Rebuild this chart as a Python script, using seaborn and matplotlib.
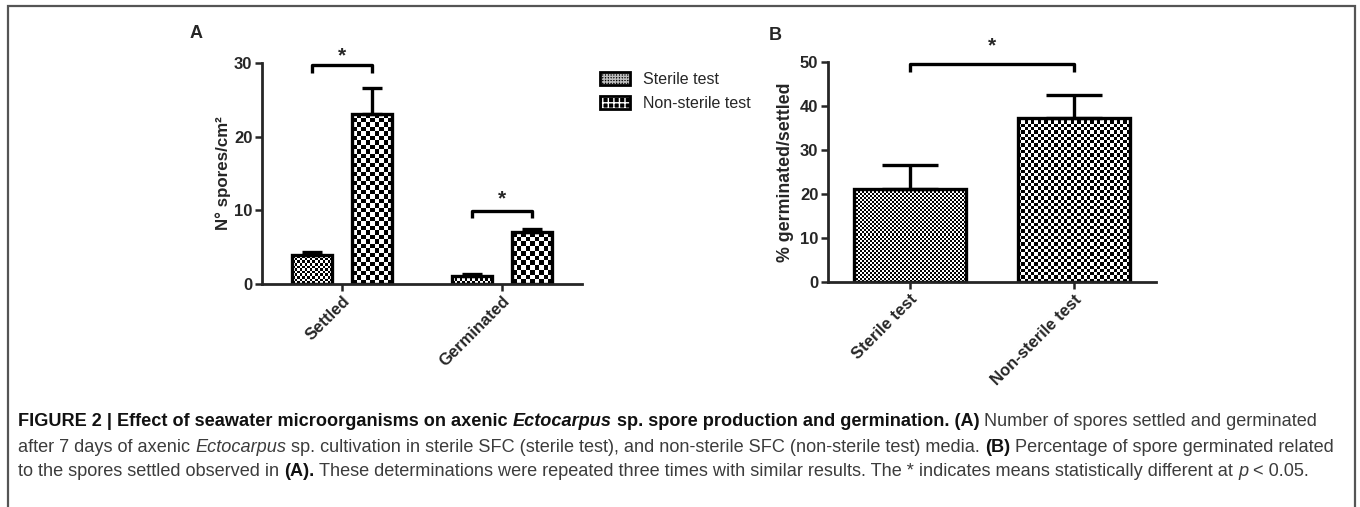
import numpy as np
import pandas as pd
import seaborn as sns
import matplotlib
matplotlib.use("Agg")
import matplotlib.pyplot as plt
from matplotlib.patches import Patch, Rectangle
from matplotlib.legend_handler import HandlerTuple

# panel A: spores per cm2
groups_a = ["Settled", "Germinated"]
treatments = ["Sterile test", "Non-sterile test"]
sterile_a = [3.9, 1.1]
sterile_a_err = [0.5, 0.2]
nonsterile_a = [23.1, 7.0]
nonsterile_a_err = [3.5, 0.4]

# panel B: % germinated/settled
values_b = [21.1, 37.3]
errors_b = [5.6, 5.2]

sns.set_style("ticks")
plt.rcParams["font.family"] = ["Liberation Sans", "DejaVu Sans"]

W, H = 1360, 507
fig = plt.figure(figsize=(W / 100, H / 100), dpi=100)


def fbox(x0, y_top, x1, y_bot):
    return [x0 / W, 1 - y_bot / H, (x1 - x0) / W, (y_bot - y_top) / H]


ax_a = fig.add_axes(fbox(262, 63, 582, 284))
ax_b = fig.add_axes(fbox(828, 62, 1156, 282))

df_a = pd.DataFrame({
    "group": groups_a * 2,
    "treatment": [treatments[0]] * 2 + [treatments[1]] * 2,
    "value": sterile_a + nonsterile_a,
})
sns.barplot(data=df_a, x="group", y="value", hue="treatment", hue_order=treatments,
            palette=["white", "white"], width=0.75, gap=0.32, errorbar=None,
            edgecolor="black", linewidth=2.4, legend=False, ax=ax_a)

df_b = pd.DataFrame({"treatment": treatments, "value": values_b})
sns.barplot(data=df_b, x="treatment", y="value", hue="treatment", hue_order=treatments,
            palette=["white", "white"], width=0.68, errorbar=None,
            edgecolor="black", linewidth=2.4, legend=False, ax=ax_b)

ax_a.set_xlim(-0.5, 1.5)
ax_a.set_ylim(0, 30)
ax_a.set_yticks([0, 10, 20, 30])
ax_b.set_xlim(-0.5, 1.5)
ax_b.set_ylim(0, 50)
ax_b.set_yticks([0, 10, 20, 30, 40, 50])


def bars_of(ax):
    bars = [p for p in ax.patches if isinstance(p, Rectangle) and p.get_height() > 0]
    return sorted(bars, key=lambda b: b.get_x())


def checker_fill(ax, bar, cell_px):
    x0, y0 = bar.get_x(), bar.get_y()
    w, h = bar.get_width(), bar.get_height()
    p0 = ax.transData.transform((x0, y0))
    p1 = ax.transData.transform((x0 + w, y0 + h))
    nx = max(1, int(round((p1[0] - p0[0]) / cell_px)))
    ny = max(1, int(round((p1[1] - p0[1]) / cell_px)))
    arr = np.indices((ny, nx)).sum(axis=0) % 2
    im = ax.imshow(arr, extent=(x0, x0 + w, y0, y0 + h), origin="lower", cmap="gray",
                   vmin=0, vmax=1, interpolation="nearest", aspect="auto", zorder=0.5)
    im.set_clip_path(bar)
    bar.set_facecolor("none")
    return x0 + w / 2, y0 + h


def upper_error(ax, x, y, err, capsize):
    ax.errorbar([x], [y], yerr=[[0], [err]], fmt="none", ecolor="black",
                elinewidth=2.4, capsize=capsize, capthick=2.4, zorder=3)


def bracket(ax, x1, x2, y_top, y_leg, star_y):
    ax.plot([x1, x1, x2, x2], [y_leg, y_top, y_top, y_leg], color="black", lw=2.4,
            clip_on=False, solid_capstyle="butt")
    ax.text((x1 + x2) / 2, star_y, "*", ha="center", va="center", fontsize=15,
            fontweight="bold", clip_on=False)


# panel A: bars sorted left to right -> sterile/non-sterile for each group
cells_a = [2.5, 4.5]
errs_a = [sterile_a_err[0], nonsterile_a_err[0], sterile_a_err[1], nonsterile_a_err[1]]
centers_a = []
for k, bar in enumerate(bars_of(ax_a)):
    x, y = checker_fill(ax_a, bar, cells_a[k % 2])
    upper_error(ax_a, x, y, errs_a[k], 7.5)
    centers_a.append(x)

# panel B
cells_b = [2.0, 3.3]
centers_b = []
for k, bar in enumerate(bars_of(ax_b)):
    x, y = checker_fill(ax_b, bar, cells_b[k])
    upper_error(ax_b, x, y, errors_b[k], 20)
    centers_b.append(x)

ax_a.set_xlim(-0.5, 1.5)
ax_a.set_ylim(0, 30)
ax_b.set_xlim(-0.5, 1.5)
ax_b.set_ylim(0, 50)

# significance brackets
bracket(ax_a, centers_a[0], centers_a[1], 29.7, 28.6, 31.0)
bracket(ax_a, centers_a[2], centers_a[3], 9.9, 9.0, 11.5)
bracket(ax_b, centers_b[0], centers_b[1], 49.5, 47.7, 53.6)

for ax in (ax_a, ax_b):
    sns.despine(ax=ax)
    for s in ("left", "bottom"):
        ax.spines[s].set_linewidth(2.0)
    ax.tick_params(axis="both", width=1.8, length=5, direction="out", labelsize=12, pad=2)
    for lab in ax.get_yticklabels():
        lab.set_fontweight("bold")
    ax.set_xlabel("")
    for lab in ax.get_xticklabels():
        lab.set_fontweight("bold")
        lab.set_rotation(45)
        lab.set_ha("right")
        lab.set_rotation_mode("anchor")

ax_a.set_ylabel("N° spores/cm²", fontsize=12.2, fontweight="bold", labelpad=2)
ax_b.set_ylabel("% germinated/settled", fontsize=12.8, fontweight="bold", labelpad=4)

fig.text(196 / W, 1 - 33 / H, "A", fontsize=13, fontweight="bold", ha="center", va="center")
fig.text(775 / W, 1 - 36 / H, "B", fontsize=13, fontweight="bold", ha="center", va="center")

handles = [
    (Patch(facecolor="black", edgecolor="#bbbbbb", hatch="++++++", lw=0),
     Patch(facecolor="none", edgecolor="black", lw=2)),
    (Patch(facecolor="black", edgecolor="white", hatch="+++", lw=0),
     Patch(facecolor="none", edgecolor="black", lw=2)),
]
fig.legend(handles, treatments, loc="upper left", bbox_to_anchor=(600 / W, 1 - 72 / H),
           frameon=False, fontsize=11.5, handlelength=1.9, handleheight=0.9,
           labelspacing=0.55, borderpad=0, borderaxespad=0, handletextpad=0.8,
           handler_map={tuple: HandlerTuple(ndivide=1, pad=0)})

# outer frame
fig.add_artist(Rectangle((8 / W, -0.1), (1355 - 8) / W, 1.1 - 6 / H, transform=fig.transFigure,
                         fill=False, edgecolor="#555555", lw=1.6))

# caption
cap_family = ["Liberation Sans Narrow", "Liberation Sans"]
lines = [
    [("FIGURE 2 | Effect of seawater microorganisms on axenic ", "bold", "normal"),
     ("Ectocarpus", "bold", "italic"),
     (" sp. spore production and germination. (A)", "bold", "normal"),
     (" Number of spores settled and germinated", "normal", "normal")],
    [("after 7 days of axenic ", "normal", "normal"),
     ("Ectocarpus", "normal", "italic"),
     (" sp. cultivation in sterile SFC (sterile test), and non-sterile SFC (non-sterile test) media. ", "normal", "normal"),
     ("(B)", "bold", "normal"),
     (" Percentage of spore germinated related", "normal", "normal")],
    [("to the spores settled observed in ", "normal", "normal"),
     ("(A).", "bold", "normal"),
     (" These determinations were repeated three times with similar results. The * indicates means statistically different at ", "normal", "normal"),
     ("p", "normal", "italic"),
     (" < 0.05.", "normal", "normal")],
]
line_y = [421, 447, 472]
renderer = fig.canvas.get_renderer()


def text_w(s, size, weight, style):
    t = fig.text(0, 0, s, fontsize=size, fontweight=weight, fontstyle=style, family=cap_family)
    w = t.get_window_extent(renderer).width
    t.remove()
    return w


def seg_width(s, size, weight, style):
    sp = text_w("x x", size, weight, style) - text_w("xx", size, weight, style)
    core = s.strip()
    lead = len(s) - len(s.lstrip())
    trail = len(s) - len(s.rstrip())
    return lead * sp, text_w(core, size, weight, style) if core else 0, trail * sp, core


def layout(segs, size, y=None):
    x = 18.0
    for s, weight, style in segs:
        lead, w, trail, core = seg_width(s, size, weight, style)
        x += lead
        if y is not None and core:
            fig.text(x / W, 1 - y / H, core, fontsize=size, fontweight=weight, fontstyle=style,
                     family=cap_family, va="center", ha="left",
                     color="#111111" if weight == "bold" else "#3c3c3c")
        x += w + trail
    return x


base = 10.0
widest = max(layout(segs, base) for segs in lines)
size = base * (1340 - 18) / (widest - 18)
for segs, y in zip(lines, line_y):
    layout(segs, size, y)

fig.savefig("out.png", dpi=100)
